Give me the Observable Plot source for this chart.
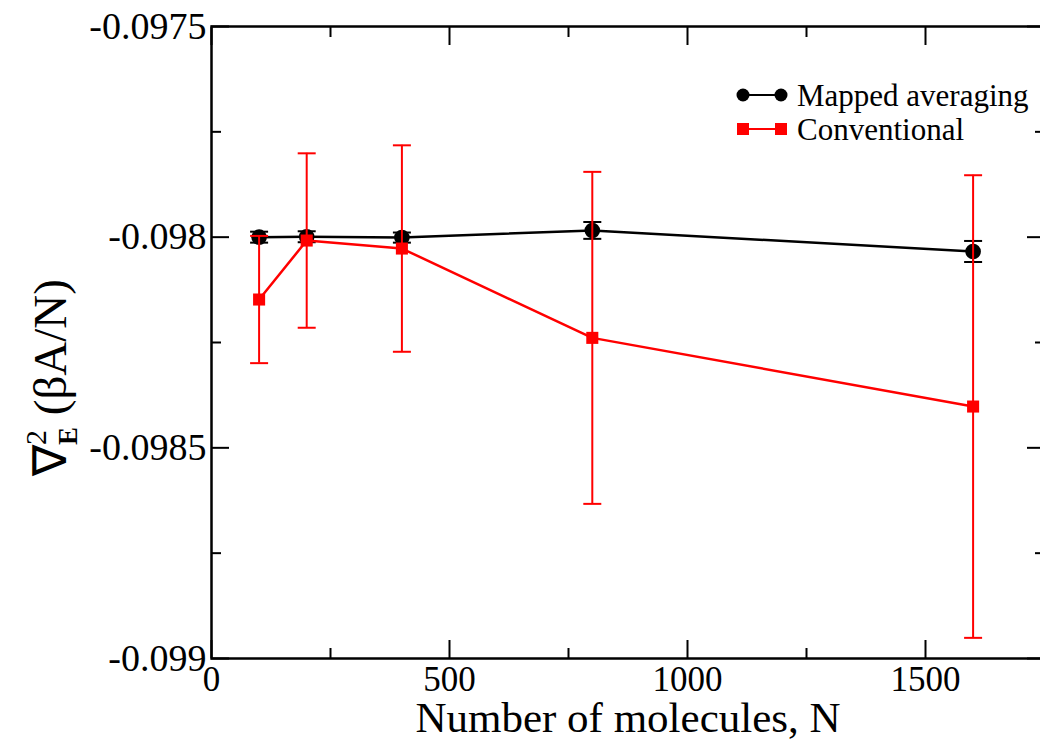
<!DOCTYPE html>
<html><head><meta charset="utf-8">
<script src="https://cdn.jsdelivr.net/npm/d3@7"></script>
<script src="https://cdn.jsdelivr.net/npm/@observablehq/plot@0.6"></script>
<style>
html,body{margin:0;padding:0;background:#fff;overflow:hidden}
</style>
</head><body><div id="chart"></div>
<script>
// ---- data ----
const N = [100, 200, 400, 800, 1600];
const mappedValue = [-0.098000, -0.097999, -0.098001, -0.097984, -0.098034];
const mappedError = [0.000013, 0.000013, 0.000012, 0.000020, 0.000025];
const convValue = [-0.098148, -0.098008, -0.098027, -0.098239, -0.098402];
const convError = [0.000151, 0.000207, 0.000245, 0.000394, 0.000549];
const seriesNames = ["Mapped averaging", "Conventional"];
const seriesColors = ["#000000", "#ff0000"];
const xMajor = [0, 500, 1000, 1500];
const xMinor = [250, 750, 1250, 1750];
const yMajor = [-0.099, -0.0985, -0.098, -0.0975];
const yMinor = [-0.09875, -0.09825, -0.09775];
const xTitle = "Number of molecules, N";
const yTitleParts = ["\u2207", "2", "E", " (\u03b2A/N)"];

const rows = (vals, errs, s) => N.map((n, i) => ({N: n, v: vals[i], lo: vals[i] - errs[i], hi: vals[i] + errs[i], s}));
const mapped = rows(mappedValue, mappedError, seriesNames[0]);
const conv = rows(convValue, convError, seriesNames[1]);

const cap = {draw(c, size) { const h = Math.sqrt(size / Math.PI); c.moveTo(-h, 0); c.lineTo(h, 0); }};

function seriesMarks(data, color, symbol, r) {
  return [
    Plot.ruleX(data, {x: "N", y1: "lo", y2: "hi", stroke: color, strokeWidth: 2}),
    Plot.dot(data, {x: "N", y: "lo", symbol: cap, r: 9, stroke: color, strokeWidth: 2, fill: "none"}),
    Plot.dot(data, {x: "N", y: "hi", symbol: cap, r: 9, stroke: color, strokeWidth: 2, fill: "none"}),
    Plot.line(data, {x: "N", y: "v", stroke: color, strokeWidth: 2.5}),
    Plot.dot(data, {x: "N", y: "v", symbol, r, fill: color, stroke: "none"})
  ];
}

const empty = () => "";
const font = "Liberation Serif";

const chart = Plot.plot({
  width: 1040,
  height: 742,
  marginLeft: 211,
  marginRight: -4,
  marginTop: 26,
  marginBottom: 84,
  style: {fontFamily: font, background: "white", color: "black"},
  x: {domain: [0, 1750]},
  y: {domain: [-0.099, -0.0975]},
  marks: [
    // tick marks, pointing inward on all four sides
    Plot.axisX(xMajor, {anchor: "bottom", tickSize: -18, tickFormat: empty, label: null, strokeWidth: 2}),
    Plot.axisX(xMinor, {anchor: "bottom", tickSize: -10, tickFormat: empty, label: null, strokeWidth: 2}),
    Plot.axisX(xMajor, {anchor: "top", tickSize: -18, tickFormat: empty, label: null, strokeWidth: 2}),
    Plot.axisX(xMinor, {anchor: "top", tickSize: -10, tickFormat: empty, label: null, strokeWidth: 2}),
    Plot.axisY(yMajor, {anchor: "left", tickSize: -18, tickFormat: empty, label: null, strokeWidth: 2}),
    Plot.axisY(yMinor, {anchor: "left", tickSize: -10, tickFormat: empty, label: null, strokeWidth: 2}),
    Plot.axisY(yMajor, {anchor: "right", tickSize: -18, tickFormat: empty, label: null, strokeWidth: 2}),
    Plot.axisY(yMinor, {anchor: "right", tickSize: -10, tickFormat: empty, label: null, strokeWidth: 2}),
    // tick labels
    Plot.axisX(xMajor, {anchor: "bottom", tickSize: 0, tickPadding: 8, tickFormat: d => String(d), label: null, fontSize: 35, fontFamily: font, fontVariant: "normal"}),
    Plot.axisY(yMajor, {anchor: "left", tickSize: 0, tickPadding: 5, tickFormat: d => String(d), label: null, fontSize: 38, fontFamily: font, fontVariant: "normal"}),
    Plot.frame({stroke: "black", strokeWidth: 2.5}),
    ...seriesMarks(mapped, seriesColors[0], "circle", 7.8),
    ...seriesMarks(conv, seriesColors[1], "square", 6.8)
  ]
});

document.getElementById("chart").appendChild(chart);
const svg = d3.select(chart);

// x title
svg.append("text")
  .attr("x", 628).attr("y", 732)
  .attr("text-anchor", "middle")
  .attr("font-size", 43).attr("fill", "black")
  .text(xTitle);

// y title with superscript/subscript
const yt = svg.append("text")
  .attr("transform", "translate(66,476) rotate(-90)")
  .attr("text-anchor", "start")
  .attr("font-size", 47).attr("fill", "black");
yt.append("tspan").text(yTitleParts[0]);
yt.append("tspan").attr("font-size", 30).attr("dy", -20).text(yTitleParts[1]);
yt.append("tspan").attr("font-size", 27).attr("font-weight", "bold").attr("dx", -15).attr("dy", 31).text(yTitleParts[2]);
yt.append("tspan").attr("dy", -11).text(yTitleParts[3]);

// legend
const legendRows = [
  {name: seriesNames[0], color: seriesColors[0], sym: "circle", y: 95},
  {name: seriesNames[1], color: seriesColors[1], sym: "square", y: 129}
];
const lg = svg.append("g");
for (const row of legendRows) {
  lg.append("line").attr("x1", 743).attr("x2", 781).attr("y1", row.y).attr("y2", row.y)
    .attr("stroke", row.color).attr("stroke-width", 2);
  for (const cx of [743, 781]) {
    if (row.sym === "circle") {
      lg.append("circle").attr("cx", cx).attr("cy", row.y).attr("r", 6.5).attr("fill", row.color);
    } else {
      lg.append("rect").attr("x", cx - 6).attr("y", row.y - 6).attr("width", 12).attr("height", 12).attr("fill", row.color);
    }
  }
  lg.append("text").attr("x", 797).attr("y", row.y).attr("dy", "0.35em")
    .attr("text-anchor", "start")
    .attr("font-size", 31).attr("fill", "black")
    .text(row.name);
}

// force the serif face on every text of the chart
svg.selectAll("text, tspan")
  .style("font-family", "'Liberation Serif', 'Times New Roman', serif")
  .style("font-variant", "normal");
</script>
</body></html>
